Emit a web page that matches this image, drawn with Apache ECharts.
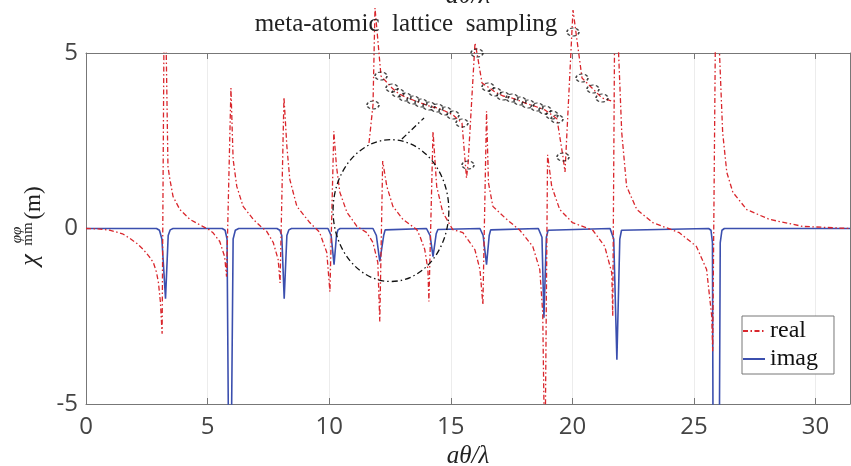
<!DOCTYPE html>
<html><head><meta charset="utf-8">
<script src="https://cdn.jsdelivr.net/npm/echarts/dist/echarts.min.js"></script>
<style>html,body{margin:0;padding:0;background:#fff}#c{width:851px;height:466px}</style>
</head><body><div id="c"></div>
<script>
// ---- data ----
const xMax = 31.4159;
const xInterval = 5;
const yRange = [-5, 5];
const seriesNames = ['real', 'imag'];

const realCurve = [
[0,0],[0.5,-0.01],[1.0,-0.05],[1.5,-0.15],[1.8,-0.28],[2.1,-0.43],[2.36,-0.6],[2.6,-0.8],[2.77,-0.97],[2.9,-1.25],[2.98,-1.55],[3.06,-2.1],[3.13,-3.0],
[3.22,7],[3.3,5.0],[3.37,1.77],[3.45,1.4],[3.58,0.91],[3.86,0.54],[4.27,0.26],[4.8,0.06],[5.05,-0.03],[5.22,-0.12],[5.5,-0.37],[5.7,-0.8],[5.78,-1.37],
[5.96,4.0],[6.05,1.97],[6.2,1.2],[6.46,0.63],[6.88,0.26],[7.2,0.05],[7.43,-0.08],[7.7,-0.4],[7.9,-0.88],[7.98,-1.55],
[8.14,3.74],[8.26,2.34],[8.38,1.4],[8.67,0.63],[9.2,0.17],[9.6,-0.1],[9.9,-0.68],[10.03,-1.8],
[10.19,2.77],[10.3,1.77],[10.44,1.03],[10.73,0.46],[11.14,0.06],[11.55,-0.12],[11.8,-0.4],[12.0,-0.97],[12.08,-2.65],
[12.2,1.92],[12.37,1.2],[12.62,0.63],[13.03,0.26],[13.6,-0.03],[13.73,-0.22],[13.93,-0.6],[14.06,-1.17],[14.1,-2.08],
[14.27,2.77],[14.42,1.2],[14.67,0.46],[15.08,-0.03],[15.5,-0.12],[15.99,-0.6],[16.2,-1.17],[16.32,-2.17],
[16.47,3.34],[16.55,1.3],[16.73,0.63],[17.3,0.26],[17.84,-0.05],[18.37,-0.51],[18.66,-1.17],[18.78,-2.4],[18.87,-7],
[18.98,2.1],[19.15,1.2],[19.48,0.54],[20.0,0.17],[20.84,-0.05],[21.33,-0.51],[21.62,-1.26],[21.66,-2.5],
[21.75,7],[21.9,5.0],[22.03,2.73],[22.23,1.2],[22.65,0.54],[23.3,0.17],[24.4,-0.12],[25.1,-0.51],[25.52,-1.17],[25.73,-2.5],[25.77,-3.5],
[25.9,7],[26.05,5.0],[26.18,2.73],[26.35,1.6],[26.6,1.03],[27.17,0.54],[28.1,0.26],[29.47,0.06],[31.4159,0.0]
];

const imagCurve = [
[0,0],[2.9,0],[3.02,-0.05],[3.12,-0.3],[3.27,-2.0],[3.38,-0.2],[3.46,-0.04],[3.58,0],
[5.6,0],[5.72,-0.05],[5.8,-0.3],[5.85,-5],[5.92,-9],[5.99,-5],[6.05,-0.3],[6.14,-0.05],[6.28,0],
[7.85,0],[7.97,-0.05],[8.05,-0.2],[8.15,-2.0],[8.26,-0.2],[8.34,-0.04],[8.45,0],
[9.95,0],[10.03,-0.04],[10.08,-0.2],[10.2,-1.03],[10.3,-0.2],[10.36,-0.04],[10.45,0],
[11.8,0],[11.88,-0.04],[11.94,-0.2],[12.08,-0.94],[12.24,-0.2],[12.3,-0.04],[12.38,0],
[14.0,0],[14.08,-0.04],[14.15,-0.2],[14.27,-0.8],[14.4,-0.15],[14.47,-0.03],[14.55,0],
[16.2,0],[16.27,-0.04],[16.33,-0.2],[16.47,-1.03],[16.58,-0.2],[16.64,-0.04],[16.72,0],
[18.6,0],[18.68,-0.05],[18.75,-0.25],[18.83,-2.54],[18.93,-0.25],[19.0,-0.05],[19.08,0],
[21.55,0],[21.63,-0.05],[21.7,-0.3],[21.83,-3.74],[21.95,-0.3],[22.02,-0.05],[22.1,0],
[25.6,0],[25.7,-0.05],[25.76,-0.4],[25.78,-5],[25.92,-10],[26.05,-5],[26.08,-0.4],[26.15,-0.05],[26.25,0],
[31.4159,0]
];

// inset ("meta-atomic lattice sampling"), in its own inset units
const insetCurve = [
[0.9,3.7],[1.3,7.5],[1.5,17.2],[2.1,10.4],[3.2,9.2],[3.8,8.7],[4.5,8.3],[5.3,8.0],[6.1,7.7],[6.9,7.4],[7.7,7.2],[8.5,6.9],[9.3,6.5],[10.2,5.7],
[10.65,0.2],[10.8,1.5],[11.5,13.7],[11.7,12.7],[12.2,9.7],[12.8,9.3],[13.5,8.8],[14.3,8.4],[15.2,8.2],[16.0,7.9],[16.8,7.6],[17.7,7.3],[18.5,7.0],[19.2,6.5],[19.7,6.1],
[20.3,2.3],[20.5,0.8],[21.3,17.0],[22.2,10.2],[23.3,9.1],[24.2,8.2],[25.5,7.8]
];
const insetSamples = [
[1.3,7.5],[2.1,10.4],[3.2,9.2],[3.8,8.7],[4.5,8.3],[5.3,8.0],[6.1,7.7],[6.9,7.4],[7.7,7.2],[8.5,6.9],[9.3,6.5],[10.2,5.7],
[10.8,1.5],[11.7,12.7],[12.8,9.3],[13.5,8.8],[14.3,8.4],[15.2,8.2],[16.0,7.9],[16.8,7.6],[17.7,7.3],[18.5,7.0],[19.2,6.5],[19.7,6.1],
[20.3,2.3],[21.3,14.8],[22.2,10.2],[23.3,9.1],[24.2,8.2]
];

// annotation ring (data units of main axes)
const ringCenter = [12.54, 0.51];
const ringRadii = [2.38, 2.02];
const pointerFrom = [12.99, 2.55];
const pointerTo = [13.9, 3.15];

const titleText = 'meta-atomic  lattice  sampling';
const xName = 'aθ/λ';

// ---- chart ----
const RED = '#d9262c', BLUE = '#3b4fae', AXIS = '#777';
const dashDot = [5, 2.5, 1.5, 2.5];
const chart = echarts.init(document.getElementById('c'), null, {renderer: 'canvas'});
const fmt = v => (Math.abs(v % xInterval) < 1e-9 ? String(v) : '');
const axisCommon = {
  axisLine: {show: true, onZero: false, lineStyle: {color: AXIS}},
  axisTick: {show: true, inside: true, length: 6, lineStyle: {color: AXIS}}
};
chart.setOption({
  animation: false,
  backgroundColor: '#fff',
  grid: [
    {left: 86, right: 1, top: 53, bottom: 62, containLabel: false, outerBoundsMode: 'none'},
    {left: 360, top: 0, width: 260, height: 180, containLabel: false, outerBoundsMode: 'none'}
  ],
  xAxis: [
    Object.assign({type: 'value', gridIndex: 0, min: 0, max: xMax, interval: xInterval, position: 'bottom',
     axisLabel: {formatter: fmt, fontSize: 24, color: '#444', fontFamily: 'Open Sans', margin: 11},
     splitLine: {show: true, lineStyle: {color: '#ececec'}},
     name: xName, nameLocation: 'middle', nameGap: 40,
     nameTextStyle: {fontFamily: 'Liberation Serif', fontStyle: 'italic', fontSize: 25, color: '#222'}}, axisCommon),
    Object.assign({type: 'value', gridIndex: 0, min: 0, max: xMax, interval: xInterval, position: 'top',
     axisLabel: {show: false}, splitLine: {show: false}}, axisCommon),
    {type: 'value', gridIndex: 1, min: 0, max: 26, show: false}
  ],
  yAxis: [
    Object.assign({type: 'value', gridIndex: 0, min: yRange[0], max: yRange[1], interval: 5, position: 'left',
     axisLabel: {fontSize: 24, color: '#444', fontFamily: 'Open Sans', margin: 8},
     splitLine: {show: false}}, axisCommon),
    Object.assign({type: 'value', gridIndex: 0, min: yRange[0], max: yRange[1], interval: 5, position: 'right',
     axisLabel: {show: false}, splitLine: {show: false}}, axisCommon),
    {type: 'value', gridIndex: 1, min: 0, max: 18, show: false}
  ],
  legend: {
    data: seriesNames, orient: 'vertical', left: 742, top: 316,
    itemWidth: 22, itemHeight: 12, itemGap: 4, padding: [3, 16, 3, 0],
    borderColor: '#777', borderWidth: 1, backgroundColor: '#fff',
    itemStyle: {opacity: 0, borderWidth: 0},
    textStyle: {fontFamily: 'Liberation Serif', fontSize: 24, color: '#111'}
  },
  series: [
    {name: seriesNames[0], type: 'line', xAxisIndex: 0, yAxisIndex: 0, data: realCurve,
     symbol: 'none', lineStyle: {color: RED, width: 1.3, type: dashDot}, itemStyle: {color: RED}, z: 3},
    {name: seriesNames[1], type: 'line', xAxisIndex: 0, yAxisIndex: 0, data: imagCurve,
     symbol: 'none', lineStyle: {color: BLUE, width: 1.6}, itemStyle: {color: BLUE}, z: 2},
    {name: 'insetCurve', type: 'line', xAxisIndex: 2, yAxisIndex: 2, data: insetCurve,
     symbol: 'none', clip: false, lineStyle: {color: RED, width: 1.3, type: dashDot}, z: 5},
    {name: 'insetSamples', type: 'scatter', xAxisIndex: 2, yAxisIndex: 2, data: insetSamples,
     symbol: 'circle', symbolSize: [12, 8], clip: false,
     itemStyle: {color: 'rgba(0,0,0,0)', borderColor: '#111', borderWidth: 1.3, borderType: [3, 2]}, z: 6}
  ]
});

const c = chart.convertToPixel({xAxisIndex: 0, yAxisIndex: 0}, ringCenter);
const e = chart.convertToPixel({xAxisIndex: 0, yAxisIndex: 0}, [ringCenter[0] + ringRadii[0], ringCenter[1] + ringRadii[1]]);
const p1 = chart.convertToPixel({xAxisIndex: 0, yAxisIndex: 0}, pointerFrom);
const p2 = chart.convertToPixel({xAxisIndex: 0, yAxisIndex: 0}, pointerTo);
const ringStyle = {fill: 'none', stroke: '#111', lineWidth: 1.3, lineDash: [6, 3, 1.5, 3]};
chart.setOption({
  graphic: [
    {type: 'ellipse', shape: {cx: c[0], cy: c[1], rx: Math.abs(e[0] - c[0]), ry: Math.abs(e[1] - c[1])}, style: ringStyle, z: 10},
    {type: 'line', shape: {x1: p1[0], y1: p1[1], x2: p2[0], y2: p2[1]}, style: ringStyle, z: 10},
    {type: 'text', x: 406, y: 24, style: {text: titleText, font: '25px "Liberation Serif"', fill: '#222', align: 'center', verticalAlign: 'middle'}, z: 10},
    {type: 'text', x: 468, y: 9, style: {text: xName, font: 'italic 26px "Liberation Serif"', fill: '#222', align: 'center', verticalAlign: 'bottom'}, z: 10},
    {type: 'group', x: 0, y: 230, rotation: Math.PI / 2, z: 10, children: [
      {type: 'text', x: -30, y: 30, style: {text: 'χ', font: 'italic 26px "Liberation Serif"', fill: '#222', align: 'center', verticalAlign: 'middle'}},
      {type: 'text', x: -4, y: 28, style: {text: 'mm', font: '15px "Liberation Serif"', fill: '#222', align: 'center', verticalAlign: 'middle'}},
      {type: 'text', x: -5, y: 17, style: {text: 'φφ', font: 'italic 15px "Liberation Serif"', fill: '#222', align: 'center', verticalAlign: 'middle'}},
      {type: 'text', x: 27, y: 34, style: {text: '(m)', font: '23px "Liberation Serif"', fill: '#222', align: 'center', verticalAlign: 'middle'}}
    ]}
  ]
});
</script>
</body></html>
